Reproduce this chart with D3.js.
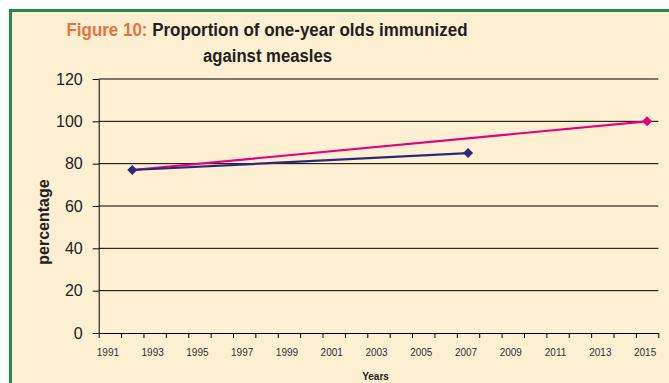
<!DOCTYPE html>
<html>
<head>
<meta charset="utf-8">
<script src="https://cdn.jsdelivr.net/npm/d3@7"></script>
<style>
  body { margin: 0; background: #fff; }
  text { font-family: Arial, "Liberation Sans", sans-serif; }
</style>
</head>
<body>
<svg class="chart" width="669" height="383"></svg>
<script>
var years = [1991, 1992, 1993, 1994, 1995, 1996, 1997, 1998, 1999, 2000, 2001, 2002, 2003,
             2004, 2005, 2006, 2007, 2008, 2009, 2010, 2011, 2012, 2013, 2014, 2015];
var yTicks = [0, 20, 40, 60, 80, 100, 120];

// actual coverage
var actualYears = [1992, 2007];
var actualValues = [77, 85];

// MDG target line
var targetYears = [1992, 2015];
var targetValues = [77, 100];

var svg = d3.select(".chart");
var plotLeft = 98.7, plotRight = 658.3, plotTop = 79, plotBottom = 333;

// panel background + green frame
svg.append("rect")
    .attr("x", 10.5).attr("y", 10.5)
    .attr("width", 700).attr("height", 400)
    .attr("fill", "#fdefd2")
    .attr("stroke", "#1f8a4c")
    .attr("stroke-width", 3);

var xScale = d3.scaleBand().domain(years).range([plotLeft, plotRight]).padding(0);
var xEdge = d3.scaleLinear().domain([years[0], years[years.length - 1] + 1]).range([plotLeft, plotRight]);
var yScale = d3.scaleLinear().domain([0, 120]).range([plotBottom, plotTop]);

// title
var t1 = svg.append("text")
    .attr("x", 267).attr("y", 36)
    .attr("text-anchor", "middle")
    .attr("font-size", "18px")
    .attr("font-weight", "bold")
    .attr("textLength", 401)
    .attr("lengthAdjust", "spacingAndGlyphs");
t1.append("tspan").attr("fill", "#e8743b").text("Figure 10:");
t1.append("tspan").attr("fill", "#231f20").text(" Proportion of one-year olds immunized");

svg.append("text")
    .attr("x", 267.5).attr("y", 62)
    .attr("text-anchor", "middle")
    .attr("font-size", "18px")
    .attr("font-weight", "bold")
    .attr("fill", "#231f20")
    .attr("textLength", 129)
    .attr("lengthAdjust", "spacingAndGlyphs")
    .text("against measles");

// gridlines
svg.append("g")
    .selectAll("line")
    .data(yTicks.slice(1))
    .enter().append("line")
    .attr("x1", plotLeft).attr("x2", plotRight)
    .attr("y1", function (d) { return yScale(d); })
    .attr("y2", function (d) { return yScale(d); })
    .attr("stroke", "#000")
    .attr("stroke-width", 1);

// y axis
var yAxis = svg.append("g")
    .attr("transform", "translate(" + plotLeft + ",0)")
    .call(d3.axisLeft(yScale).tickValues(yTicks).tickSize(6).tickSizeOuter(0).tickPadding(10));
yAxis.select(".domain").attr("stroke", "#000");
yAxis.selectAll(".tick line").attr("stroke", "#000");
yAxis.selectAll(".tick text")
    .attr("font-size", "16px")
    .attr("fill", "#222")
    .attr("font-family", "Arial, 'Liberation Sans', sans-serif");

// x axis: tick marks on category edges
var xAxis = svg.append("g")
    .attr("transform", "translate(0," + plotBottom + ")")
    .call(d3.axisBottom(xEdge)
        .tickValues(years.concat([years[years.length - 1] + 1]))
        .tickFormat("")
        .tickSize(5)
        .tickSizeOuter(0));
xAxis.select(".domain").attr("stroke", "#000");
xAxis.selectAll(".tick line").attr("stroke", "#000");

// x labels at category centres, every other year
svg.append("g")
    .selectAll("text")
    .data(years.filter(function (d, i) { return i % 2 === 0; }))
    .enter().append("text")
    .attr("x", function (d) { return xScale(d) + xScale.bandwidth() / 2 - 2; })
    .attr("y", 356)
    .attr("text-anchor", "middle")
    .attr("font-size", "10px")
    .attr("fill", "#333")
    .text(function (d) { return d; });

svg.append("text")
    .attr("x", 375.5).attr("y", 380)
    .attr("text-anchor", "middle")
    .attr("font-size", "10px")
    .attr("font-weight", "bold")
    .attr("fill", "#222")
    .text("Years");

svg.append("text")
    .attr("transform", "translate(49,222) rotate(-90)")
    .attr("text-anchor", "middle")
    .attr("font-size", "16px")
    .attr("font-weight", "bold")
    .attr("fill", "#222")
    .text("percentage");

function cx(d) { return xScale(d) + xScale.bandwidth() / 2; }
var diamond = "M0,-5L5,0L0,5L-5,0Z";

function drawSeries(xs, vs, color, markerIdx) {
    var pts = xs.map(function (d, i) { return [cx(d), yScale(vs[i])]; });
    svg.append("path")
        .attr("d", d3.line()(pts))
        .attr("fill", "none")
        .attr("stroke", color)
        .attr("stroke-width", 2.2);
    svg.append("g")
        .selectAll("path")
        .data(pts.filter(function (p, i) { return markerIdx.indexOf(i) >= 0; }))
        .enter().append("path")
        .attr("d", diamond)
        .attr("transform", function (p) { return "translate(" + p[0] + "," + p[1] + ")"; })
        .attr("fill", color);
}

drawSeries(targetYears, targetValues, "#e6007e", [1]);
drawSeries(actualYears, actualValues, "#2b2a78", [0, 1]);
</script>
</body>
</html>
